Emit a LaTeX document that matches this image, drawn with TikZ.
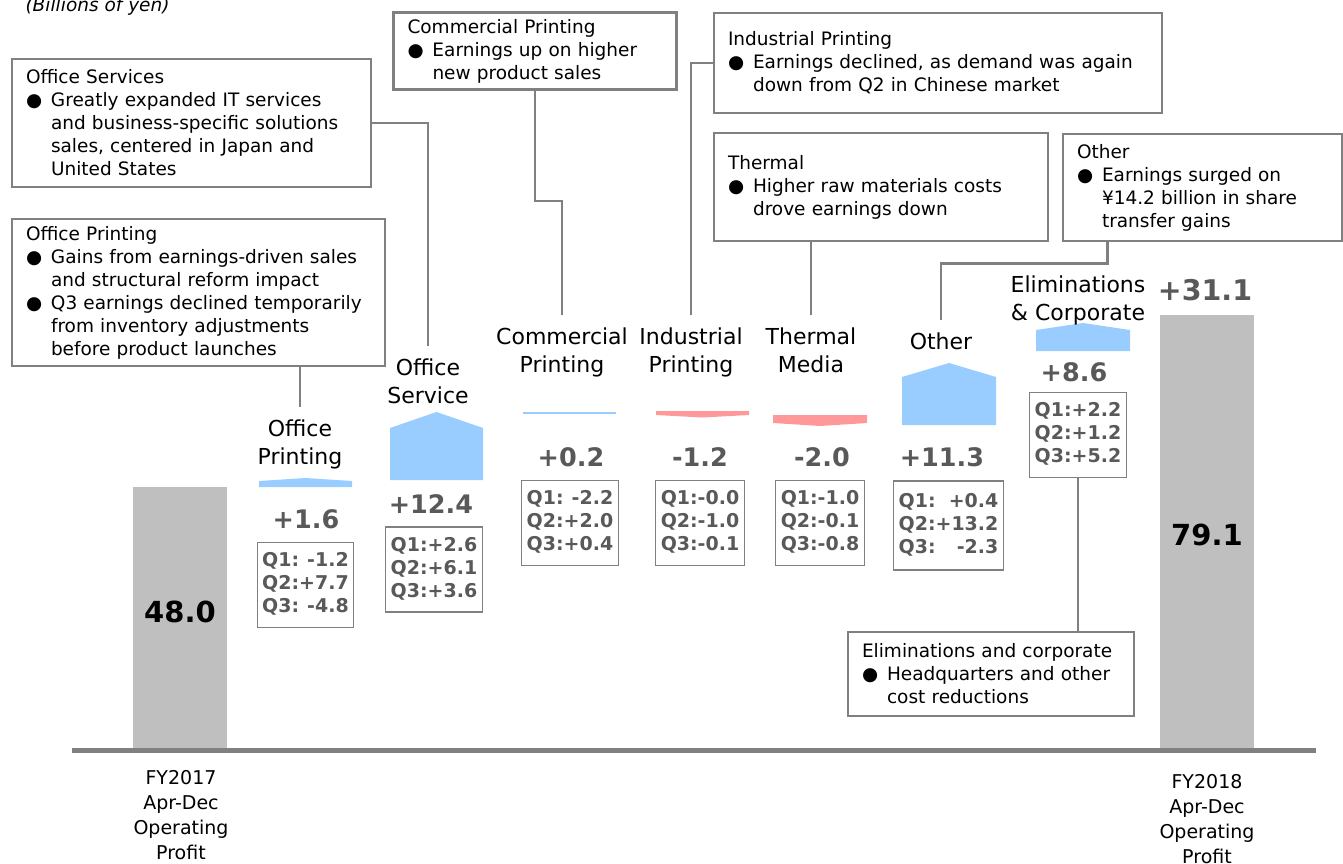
\documentclass[tikz,border=0pt]{standalone}
\usepackage{fontspec}
\setmainfont{DejaVu Sans}
\definecolor{framegray}{RGB}{128,128,128}
\definecolor{bargray}{RGB}{191,191,191}
\definecolor{valgray}{RGB}{89,89,89}
\definecolor{gainblue}{RGB}{153,204,255}
\definecolor{lossred}{RGB}{255,153,153}
\newcommand{\itemdot}{\makebox[25pt][l]{●}}
\newcommand{\itemgap}{\hspace*{25pt}}

\begin{document}
\begin{tikzpicture}[x=1pt, y=-1pt,
    note/.style={draw=framegray, line width=2.5pt, align=left, inner xsep=14pt,
        inner ysep=0pt, text width=#1, font=\fontsize{18.5}{23}\selectfont},
    qbox/.style={draw=framegray, line width=1.3pt, inner xsep=5pt,
        minimum height=85pt, text=valgray, font=\bfseries\fontsize{19}{23}\selectfont},
    seglabel/.style={align=center, inner sep=0pt, font=\fontsize{22}{28}\selectfont},
    delta/.style={text=valgray, font=\bfseries\fontsize{25.5}{28}\selectfont},
    total/.style={font=\bfseries\fontsize{29}{32}\selectfont},
    yearlabel/.style={align=center, font=\fontsize{19}{25}\selectfont},
    conn/.style={draw=framegray, line width=2.5pt, shorten >=12pt},
    gain/.style={fill=gainblue},
    loss/.style={fill=lossred},
    totbar/.style={fill=bargray}
]
    \useasboundingbox (0,0) rectangle (1343,863);

    \node[anchor=base west, font=\itshape\fontsize{18.5}{22}\selectfont] (unit) at (22,11) {(Billions of yen)};

    % totals
    \fill[totbar] (133,487) rectangle (227,748);
    \fill[totbar] (1160,315) rectangle (1254,748);
    \draw[framegray, line width=5pt] (72,750.5) -- (1316,750.5);
    \node[total] (prev) at (180,612) {48.0};
    \node[total] (curr) at (1207,535) {79.1};
    \node[delta, font=\bfseries\fontsize{28.5}{30}\selectfont] (dtot) at (1205,290) {+31.1};
    \node[yearlabel] (prevlab) at (181,815) {FY2017\\Apr-Dec\\Operating\\Profit};
    \node[yearlabel] (currlab) at (1207,819) {FY2018\\Apr-Dec\\Operating\\Profit};

    % segment steps
    \fill[gain] (259,487) -- (259,481) -- (305.5,478) -- (352,481) -- (352,487) -- cycle;
    \fill[gain] (390,480) -- (390,428) -- (436.5,412) -- (483,428) -- (483,480) -- cycle;
    \fill[gain] (523,412.3) rectangle (616,413.7);
    \fill[loss] (656,411) -- (749,411) -- (749,415) -- (702.5,417.5) -- (656,415) -- cycle;
    \fill[loss] (773,415) -- (867,415) -- (867,423) -- (820,426) -- (773,423) -- cycle;
    \fill[gain] (902,425) -- (902,377) -- (949,363) -- (996,377) -- (996,425) -- cycle;
    \fill[gain] (1036,351) -- (1036,330) -- (1083,323) -- (1130,330) -- (1130,351) -- cycle;

    \node[seglabel] (lop) at (300,444) {Office\\Printing};
    \node[seglabel] (los) at (428,381) {Office\\Service};
    \node[seglabel] (lcp) at (562,352) {Commercial\\Printing};
    \node[seglabel] (lip) at (691,352) {Industrial\\Printing};
    \node[seglabel] (ltm) at (811,350) {Thermal\\Media};
    \node[seglabel] (lot) at (941,341) {Other};
    \node[seglabel] (lec) at (1078,300) {Eliminations\\\& Corporate};

    \node[delta] (dop) at (306,519) {+1.6};
    \node[delta] (dos) at (431,504) {+12.4};
    \node[delta] (dcp) at (571,457) {+0.2};
    \node[delta] (dip) at (700,457) {-1.2};
    \node[delta] (dtm) at (822,457) {-2.0};
    \node[delta] (dot) at (942,457) {+11.3};
    \node[delta] (dec) at (1074,372) {+8.6};

    % quarterly breakdown
    \node[qbox] (opq) at (305.5,585) {\begin{tabular}{@{}l@{}r@{}}Q1:&-1.2\\Q2:&+7.7\\Q3:&-4.8\end{tabular}};
    \node[qbox] (osq) at (434,569.5) {\begin{tabular}{@{}l@{}r@{}}Q1:&+2.6\\Q2:&+6.1\\Q3:&+3.6\end{tabular}};
    \node[qbox] (cpq) at (570,523) {\begin{tabular}{@{}l@{}r@{}}Q1:&-2.2\\Q2:&+2.0\\Q3:&+0.4\end{tabular}};
    \node[qbox] (ipq) at (700,523) {\begin{tabular}{@{}l@{}r@{}}Q1:&-0.0\\Q2:&-1.0\\Q3:&-0.1\end{tabular}};
    \node[qbox] (tmq) at (820,523) {\begin{tabular}{@{}l@{}r@{}}Q1:&-1.0\\Q2:&-0.1\\Q3:&-0.8\end{tabular}};
    \node[qbox, minimum height=89pt] (otq) at (948.5,525.5) {\begin{tabular}{@{}l@{}r@{}}Q1:&+0.4\\Q2:&+13.2\\Q3:&-2.3\end{tabular}};
    \node[qbox] (ecq) at (1078,435) {\begin{tabular}{@{}l@{}r@{}}Q1:&+2.2\\Q2:&+1.2\\Q3:&+5.2\end{tabular}};

    % comment boxes
    \node[note=331pt, minimum height=128pt] (osbox) at (191.5,123) {Office Services\\
        \itemdot Greatly expanded IT services\\
        \itemgap and business-specific solutions\\
        \itemgap sales, centered in Japan and\\
        \itemgap United States};
    \node[note=345pt, minimum height=147pt] (opbox) at (198.5,292.5) {Office Printing\\
        \itemdot Gains from earnings-driven sales\\
        \itemgap and structural reform impact\\
        \itemdot Q3 earnings declined temporarily\\
        \itemgap from inventory adjustments\\
        \itemgap before product launches};
    \node[note=255pt, minimum height=77pt] (cpbox) at (535,51) {Commercial Printing\\
        \itemdot Earnings up on higher\\
        \itemgap new product sales};
    \node[note=420pt, minimum height=100pt] (ipbox) at (938,63) {Industrial Printing\\
        \itemdot Earnings declined, as demand was again\\
        \itemgap down from Q2 in Chinese market};
    \node[note=306pt, minimum height=108pt] (tmbox) at (881,187) {Thermal\\
        \itemdot Higher raw materials costs\\
        \itemgap drove earnings down};
    \node[note=251pt, minimum height=107pt] (otbox) at (1202.5,187.5) {Other\\
        \itemdot Earnings surged on\\
        \itemgap ¥14.2 billion in share\\
        \itemgap transfer gains};
    \node[note=258pt, minimum height=84pt] (ecbox) at (991,674) {Eliminations and corporate\\
        \itemdot Headquarters and other\\
        \itemgap cost reductions};

    % connectors
    \draw[conn] (osbox.east) -| (los.north);
    \draw[conn] (opbox.south -| lop.north) -- (lop.north);
    \draw[conn] (cpbox.south) -- ++(0,110) -| (lcp.north);
    \draw[conn] (ipbox.west) -| (lip.north);
    \draw[conn] (tmbox.south -| ltm.north) -- (ltm.north);
    \draw[conn] ([xshift=-95pt]otbox.south) -- ++(0,21) -| (lot.north);
    \draw[conn, shorten >=0pt] (ecq.south) -- (ecq.south |- ecbox.north);
\end{tikzpicture}
\end{document}
